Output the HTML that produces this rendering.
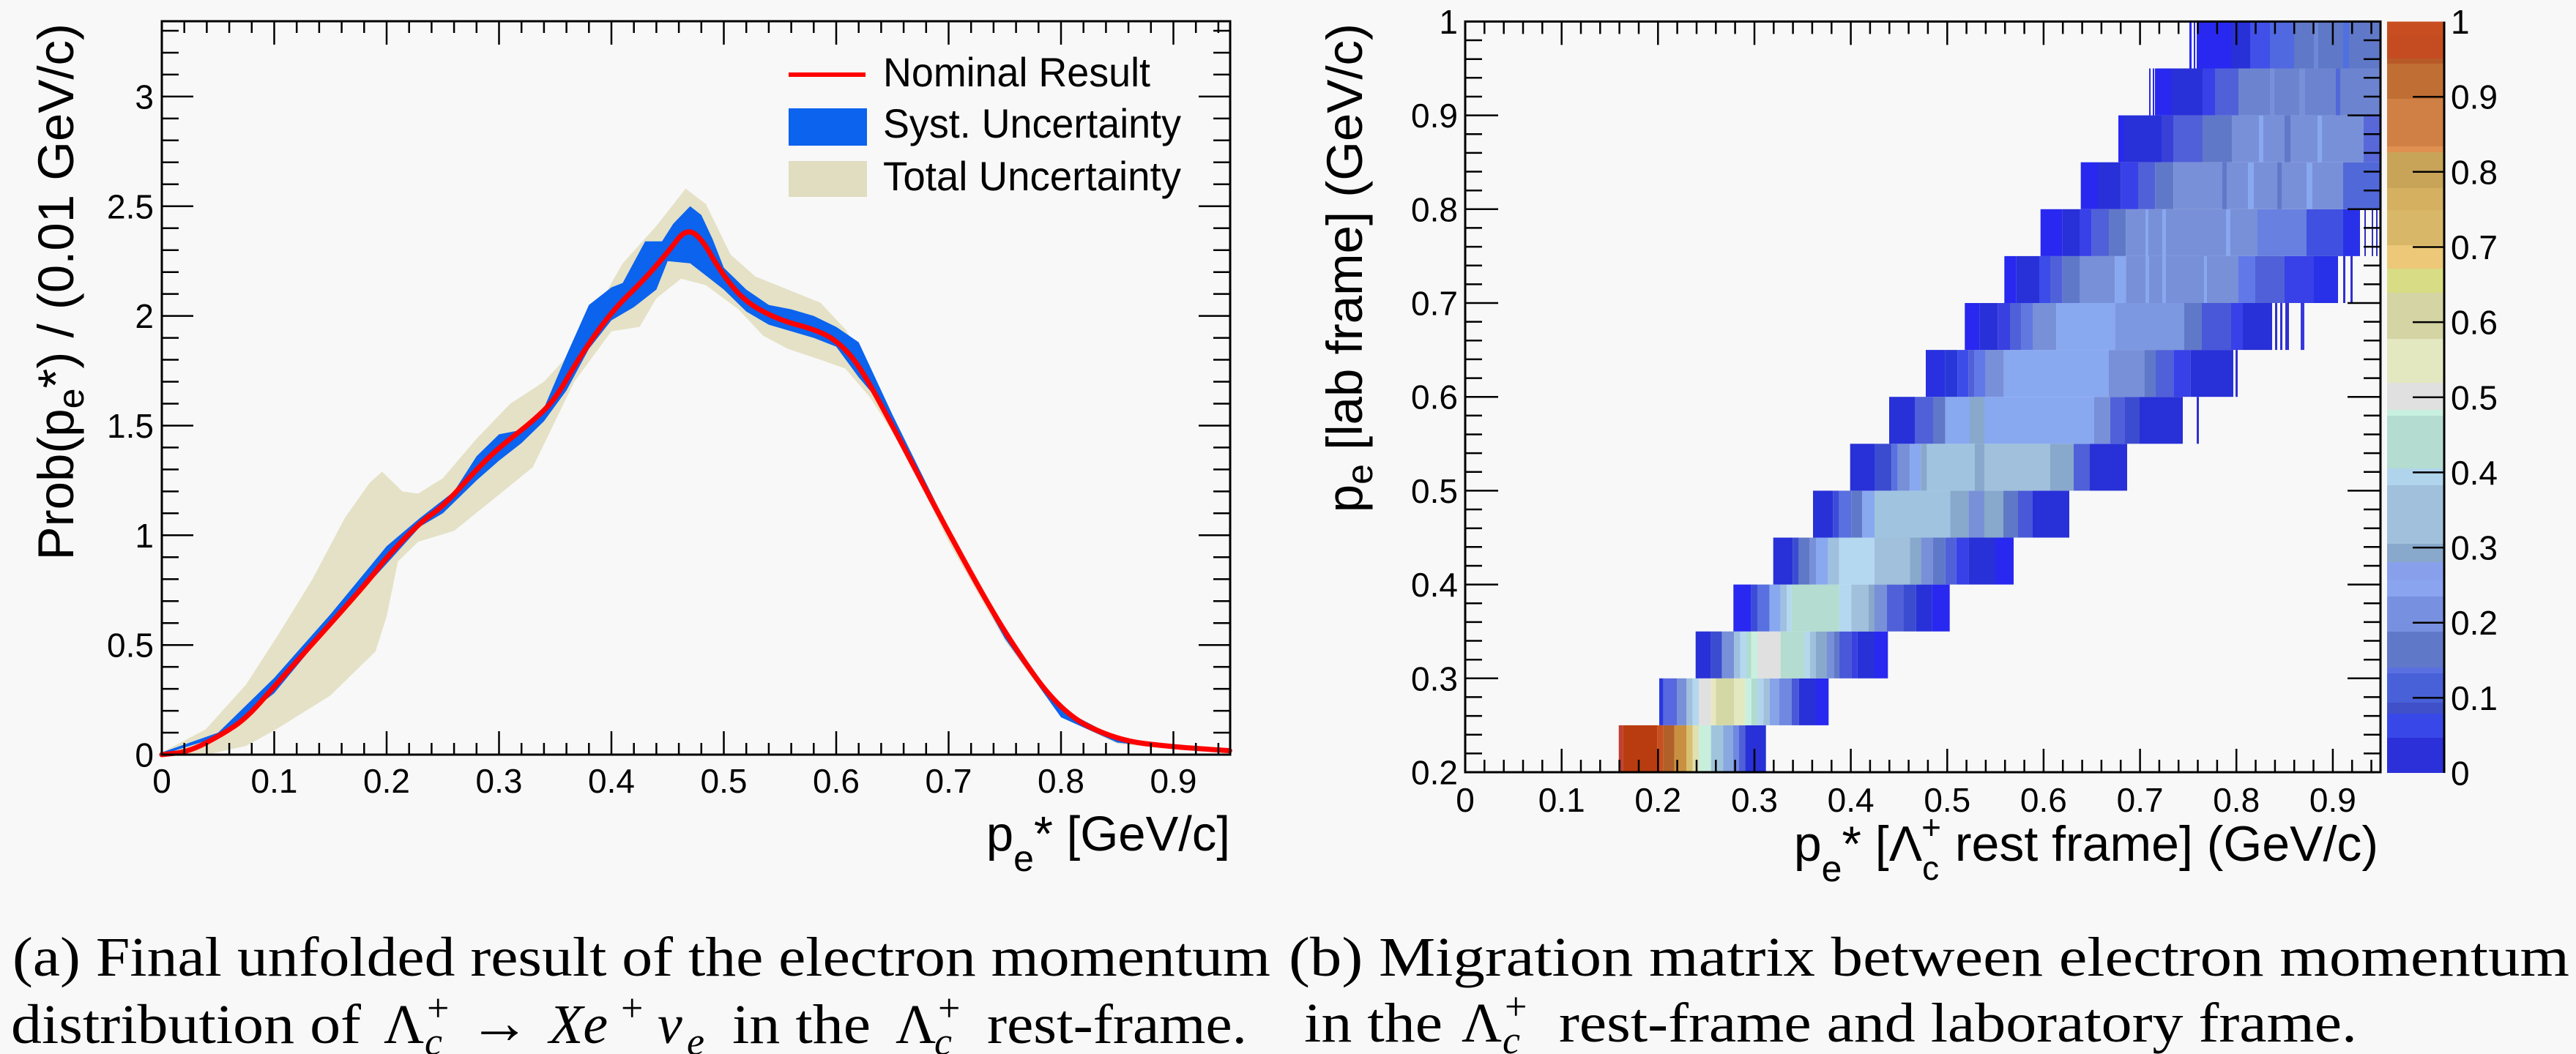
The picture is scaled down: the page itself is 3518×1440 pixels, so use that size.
<!DOCTYPE html>
<html><head><meta charset="utf-8"><style>
html,body{margin:0;padding:0;background:#f8f8f8;}
svg{display:block;}
.t{font-family:"Liberation Sans",Arial,sans-serif;fill:#000;}
.s{font-family:"Liberation Serif","DejaVu Serif",serif;fill:#000;}
</style></head><body>
<svg width="3518" height="1440" viewBox="0 0 3518 1440" xmlns="http://www.w3.org/2000/svg">
<rect width="3518" height="1440" fill="#f8f8f8"/>

<!-- ===== LEFT PLOT ===== -->
<polygon fill="#e4e1c6" points="221,1028 280.9,996.5 336.1,935.1 380.6,866.2 426.7,791.2 471.2,707.3 505,659.4 521.9,644.4 549.5,671.4 571,674.4 604.8,653.4 650.8,599.4 696.9,551.5 742.9,521.5 784.3,476.6 819.7,413.6 850.4,359.7 896.4,308.7 936.3,257.8 964,278.8 997.7,347.7 1031.5,377.7 1076,395.6 1120.5,413.6 1154.3,449.6 1188,503.5 1221.8,575.5 1295.5,719.3 1372.3,857.2 1449,968.1 1525.8,1007 1602.5,1017.5 1679.3,1022 1679.3,1028 1602.5,1023.5 1525.8,1016 1449,980 1372.3,875.2 1295.5,740.3 1234.1,614.4 1188,542.5 1154.3,503.5 1120.5,491.5 1076,476.6 1042.2,458.6 1008.5,422.6 964,389.6 930.2,380.7 896.4,407.6 873.4,446.6 835,452.6 784.3,521.5 727.6,638.4 672.3,683.3 620.1,725.3 571,740.3 543.4,767.3 528,842.2 512.7,890.1 451.3,950.1 374.5,998 336.1,1019 282.4,1031 221,1031"/>
<polygon fill="#0b63ee" points="221,1028 297.8,1001 374.5,926.1 451.3,839.2 528,746.3 574,707.3 620.1,671.4 650.8,623.4 681.5,593.4 712.2,587.4 742.9,557.5 773.6,485.5 804.3,416.6 835,392.6 850.4,386.6 881.1,329.7 904.1,329.7 919.4,305.7 942.5,281.8 957.8,293.7 973.2,326.7 988.5,365.7 1019.2,395.6 1049.9,416.6 1080.6,422.6 1111.3,431.6 1142,446.6 1172.7,467.6 1218.8,566.5 1295.5,722.3 1372.3,860.2 1449,968.1 1525.8,1008.5 1602.5,1019 1679.3,1023.5 1679.3,1027.4 1602.5,1022.6 1525.8,1014.5 1449,980 1372.3,872.2 1295.5,734.3 1234.1,611.4 1203.4,551.5 1172.7,515.5 1142,473.6 1111.3,461.6 1080.6,452.6 1049.9,443.6 1019.2,425.6 988.5,395.6 973.2,383.6 942.5,359.7 911.8,356.7 896.4,395.6 865.7,419.6 835,437.6 804.3,476.6 773.6,533.5 742.9,575.5 712.2,605.4 681.5,629.4 650.8,656.4 604.8,701.3 574,719.3 528,770.3 451.3,854.2 374.5,947.1 297.8,1007 221,1031"/>
<path fill="none" stroke="#ff0000" stroke-width="7" stroke-linejoin="round" stroke-linecap="round" d="M221,1031 L239.4,1029.05 Q257.8,1027.1 280.1,1015.55 Q302.4,1004 319.25,992.75 Q336.1,981.5 355.3,959.8 Q374.5,938.1 394.45,915.6 Q414.4,893.1 436.65,868.4 Q458.9,843.7 481.95,817.45 Q505,791.2 516.5,776.25 Q528,761.3 551,737.3 Q574,713.3 589.4,702.8 Q604.8,692.3 627.8,666.85 Q650.8,641.4 666.15,626.4 Q681.5,611.4 704.55,593.45 Q727.6,575.5 742.95,560.5 Q758.3,545.5 773.65,518.5 Q789,491.5 812,458.55 Q835,425.6 858,403.15 Q881,380.7 896.4,362.7 Q911.8,344.7 923.3,330 Q934.8,313 946.3,318 Q957.8,324 973.15,352.2 Q988.5,377.7 1003.85,395.65 Q1019.2,413.6 1042.25,425.6 Q1065.3,437.6 1088.3,443.6 Q1111.3,449.6 1126.65,457.1 Q1142,464.6 1157.35,481.05 Q1172.7,497.5 1195.75,539.5 Q1218.8,581.5 1257.15,654.9 Q1295.5,728.3 1333.9,797.25 Q1372.3,866.2 1410.65,920.15 Q1449,974.1 1487.4,992.8 Q1525.8,1011.5 1564.15,1016 Q1602.5,1020.5 1640.9,1023.05 L1679.3,1025.6"/>

<rect x="221" y="29" width="1459" height="1002" fill="none" stroke="#000" stroke-width="3"/>
<g id="lxt" stroke="#000" stroke-width="2.5" fill="none">
<path d="M251.7,1031v-16M282.4,1031v-16M313.1,1031v-16M343.8,1031v-16M405.2,1031v-16M435.9,1031v-16M466.6,1031v-16M497.3,1031v-16M558.7,1031v-16M589.4,1031v-16M620.1,1031v-16M650.8,1031v-16M712.2,1031v-16M742.9,1031v-16M773.6,1031v-16M804.3,1031v-16M865.7,1031v-16M896.4,1031v-16M927.1,1031v-16M957.8,1031v-16M1019.2,1031v-16M1049.9,1031v-16M1080.6,1031v-16M1111.3,1031v-16M1172.7,1031v-16M1203.4,1031v-16M1234.1,1031v-16M1264.8,1031v-16M1326.2,1031v-16M1356.9,1031v-16M1387.6,1031v-16M1418.3,1031v-16M1479.7,1031v-16M1510.4,1031v-16M1541.1,1031v-16M1571.8,1031v-16M1633.2,1031v-16M1663.9,1031v-16"/>
<path d="M374.5,1031v-32M528,1031v-32M681.5,1031v-32M835,1031v-32M988.5,1031v-32M1142,1031v-32M1295.5,1031v-32M1449,1031v-32M1602.5,1031v-32"/>
</g>
<use href="#lxt" transform="matrix(1,0,0,-1,0,1060)"/>
<g id="lyt" stroke="#000" stroke-width="2.5" fill="none">
<path d="M221,1001h23M221,971.1h23M221,941.1h23M221,911.1h23M221,851.2h23M221,821.2h23M221,791.2h23M221,761.3h23M221,701.3h23M221,671.4h23M221,641.4h23M221,611.4h23M221,551.5h23M221,521.5h23M221,491.5h23M221,461.6h23M221,401.6h23M221,371.7h23M221,341.7h23M221,311.7h23M221,251.8h23M221,221.8h23M221,191.8h23M221,161.9h23M221,101.9h23M221,72h23M221,42h23"/>
<path d="M221,881.2h43M221,731.3h43M221,581.5h43M221,431.6h43M221,281.8h43M221,131.9h43"/>
</g>
<use href="#lyt" transform="matrix(-1,0,0,1,1901,0)"/>

<g class="t" font-size="46" text-anchor="middle">
<text x="221" y="1083">0</text><text x="374.5" y="1083">0.1</text><text x="528" y="1083">0.2</text><text x="681.5" y="1083">0.3</text><text x="835" y="1083">0.4</text><text x="988.5" y="1083">0.5</text><text x="1142" y="1083">0.6</text><text x="1295.5" y="1083">0.7</text><text x="1449" y="1083">0.8</text><text x="1602.5" y="1083">0.9</text>
</g>
<g class="t" font-size="46" text-anchor="end">
<text x="210" y="1047.5">0</text><text x="210" y="897.7">0.5</text><text x="210" y="747.8">1</text><text x="210" y="598">1.5</text><text x="210" y="448.1">2</text><text x="210" y="298.3">2.5</text><text x="210" y="148.4">3</text>
</g>

<text class="t" font-size="69" text-anchor="end" transform="rotate(-90)" x="-32" y="100">Prob(p<tspan font-size="50" dy="14">e</tspan><tspan dy="-14">*) / (0.01 GeV/c)</tspan></text>
<text class="t" font-size="67" text-anchor="end" x="1680" y="1162">p<tspan font-size="50" dy="28">e</tspan><tspan dy="-28">* [GeV/c]</tspan></text>

<line x1="1077" y1="102" x2="1182" y2="102" stroke="#ff0000" stroke-width="6"/>
<rect x="1077" y="148" width="107" height="51" fill="#0b63ee"/>
<rect x="1077" y="220" width="107" height="49" fill="#e0ddc0"/>
<g class="t" font-size="56">
<text x="1206" y="118" textLength="365" lengthAdjust="spacingAndGlyphs">Nominal Result</text>
<text x="1206" y="188" textLength="407" lengthAdjust="spacingAndGlyphs">Syst. Uncertainty</text>
<text x="1206" y="260" textLength="407" lengthAdjust="spacingAndGlyphs">Total Uncertainty</text>
</g>

<!-- ===== RIGHT PLOT ===== -->
<g id="hist">
<g transform="translate(0,990.9)">
<rect x="2210.7" width="6" height="64.1" fill="#c04030"/><rect x="2216.7" width="46.6" height="64.1" fill="#b83c10"/><rect x="2263.3" width="8.4" height="64.1" fill="#c85020"/><rect x="2271.7" width="15" height="64.1" fill="#b06028"/><rect x="2286.7" width="16.6" height="64.1" fill="#c89040"/><rect x="2303.3" width="8.4" height="64.1" fill="#d8c070"/><rect x="2311.7" width="8.3" height="64.1" fill="#e0e0b0"/><rect x="2320" width="16.7" height="64.1" fill="#c8eedc"/><rect x="2336.7" width="16.6" height="64.1" fill="#a0c4dc"/><rect x="2353.3" width="13.4" height="64.1" fill="#88a8e0"/><rect x="2366.7" width="8.3" height="64.1" fill="#7088e0"/><rect x="2375" width="8.3" height="64.1" fill="#5060d8"/><rect x="2383.3" width="28.4" height="64.1" fill="#2830d8"/>
</g>
<g transform="translate(0,926.8)">
<rect x="2266" width="5.7" height="64.1" fill="#2838e0"/><rect x="2271.7" width="18.3" height="64.1" fill="#5868e0"/><rect x="2290" width="13.3" height="64.1" fill="#7890d8"/><rect x="2303.3" width="8.4" height="64.1" fill="#a0c0dc"/><rect x="2311.7" width="8.3" height="64.1" fill="#b4d8f0"/><rect x="2320" width="16.7" height="64.1" fill="#e0e0e0"/><rect x="2336.7" width="6.6" height="64.1" fill="#e8e8c0"/><rect x="2343.3" width="25" height="64.1" fill="#d4d8a4"/><rect x="2368.3" width="15" height="64.1" fill="#e4e8c0"/><rect x="2383.3" width="8.4" height="64.1" fill="#c8f0e0"/><rect x="2391.7" width="8.3" height="64.1" fill="#b0dcd0"/><rect x="2400" width="8.3" height="64.1" fill="#b0d4ec"/><rect x="2408.3" width="8.4" height="64.1" fill="#a0c0dc"/><rect x="2416.7" width="13.3" height="64.1" fill="#88a4e8"/><rect x="2430" width="16.7" height="64.1" fill="#7088e0"/><rect x="2446.7" width="10" height="64.1" fill="#4858d8"/><rect x="2456.7" width="23.3" height="64.1" fill="#2830d8"/><rect x="2480" width="17.3" height="64.1" fill="#2828f0"/>
</g>
<g transform="translate(0,862.7)">
<rect x="2315.7" width="21" height="64.1" fill="#2830d8"/><rect x="2336.7" width="15" height="64.1" fill="#3c4cd0"/><rect x="2351.7" width="16.6" height="64.1" fill="#7890d8"/><rect x="2368.3" width="8.4" height="64.1" fill="#a0c0e0"/><rect x="2376.7" width="8.3" height="64.1" fill="#b4d8f0"/><rect x="2385" width="6.7" height="64.1" fill="#b0dcd0"/><rect x="2391.7" width="8.3" height="64.1" fill="#c8f0e0"/><rect x="2400" width="31.7" height="64.1" fill="#e0e0e0"/><rect x="2431.7" width="33.3" height="64.1" fill="#b4dcd0"/><rect x="2465" width="6.7" height="64.1" fill="#b4d8f0"/><rect x="2471.7" width="8.3" height="64.1" fill="#a0c0dc"/><rect x="2480" width="15" height="64.1" fill="#88a8cc"/><rect x="2495" width="10" height="64.1" fill="#7890d8"/><rect x="2505" width="6.7" height="64.1" fill="#6078c8"/><rect x="2511.7" width="16.6" height="64.1" fill="#4858d8"/><rect x="2528.3" width="8.4" height="64.1" fill="#3840e0"/><rect x="2536.7" width="23.3" height="64.1" fill="#2830d8"/><rect x="2560" width="18.3" height="64.1" fill="#2828f0"/>
</g>
<g transform="translate(0,798.6)">
<rect x="2367.3" width="24.4" height="64.1" fill="#2828f0"/><rect x="2391.7" width="8.3" height="64.1" fill="#3c4cd8"/><rect x="2400" width="16.7" height="64.1" fill="#5870e0"/><rect x="2416.7" width="15" height="64.1" fill="#88a8f0"/><rect x="2431.7" width="8.3" height="64.1" fill="#a0c0e0"/><rect x="2440" width="6.7" height="64.1" fill="#b4d8f0"/><rect x="2446.7" width="65" height="64.1" fill="#b4dcd0"/><rect x="2511.7" width="16.6" height="64.1" fill="#b4d8f0"/><rect x="2528.3" width="23.4" height="64.1" fill="#a0c0dc"/><rect x="2551.7" width="8.3" height="64.1" fill="#88a8cc"/><rect x="2560" width="16.7" height="64.1" fill="#7890d8"/><rect x="2576.7" width="23.3" height="64.1" fill="#5060d8"/><rect x="2600" width="16.7" height="64.1" fill="#3c4cd0"/><rect x="2616.7" width="21.6" height="64.1" fill="#2830d8"/><rect x="2638.3" width="24.4" height="64.1" fill="#2828f0"/>
</g>
<g transform="translate(0,734.5)">
<rect x="2421.7" width="26.6" height="64.1" fill="#2830d8"/><rect x="2448.3" width="8.4" height="64.1" fill="#3c4cd0"/><rect x="2456.7" width="15" height="64.1" fill="#6078c8"/><rect x="2471.7" width="8.3" height="64.1" fill="#7890d8"/><rect x="2480" width="16.7" height="64.1" fill="#88a8f0"/><rect x="2496.7" width="15" height="64.1" fill="#a0c0e0"/><rect x="2511.7" width="48.3" height="64.1" fill="#b4d8f0"/><rect x="2560" width="48.3" height="64.1" fill="#a0c0dc"/><rect x="2608.3" width="15" height="64.1" fill="#88a8cc"/><rect x="2623.3" width="16.7" height="64.1" fill="#7890d8"/><rect x="2640" width="16.7" height="64.1" fill="#6078c8"/><rect x="2656.7" width="15" height="64.1" fill="#5060d8"/><rect x="2671.7" width="16.6" height="64.1" fill="#3840e8"/><rect x="2688.3" width="36.7" height="64.1" fill="#2830d8"/><rect x="2725" width="25" height="64.1" fill="#2828f0"/>
</g>
<g transform="translate(0,670.4)">
<rect x="2476" width="27.3" height="64.1" fill="#2830d8"/><rect x="2503.3" width="8.4" height="64.1" fill="#3c4cd8"/><rect x="2511.7" width="16.6" height="64.1" fill="#5870e0"/><rect x="2528.3" width="15" height="64.1" fill="#6078c8"/><rect x="2543.3" width="16.7" height="64.1" fill="#88a8f0"/><rect x="2560" width="103.3" height="64.1" fill="#a0c4e0"/><rect x="2663.3" width="25" height="64.1" fill="#88a8cc"/><rect x="2688.3" width="21.7" height="64.1" fill="#7890d8"/><rect x="2710" width="26" height="64.1" fill="#88a8cc"/><rect x="2736" width="20" height="64.1" fill="#6078c8"/><rect x="2756" width="20" height="64.1" fill="#4858d8"/><rect x="2776" width="50" height="64.1" fill="#2830d8"/>
</g>
<g transform="translate(0,606.3)">
<rect x="2526.7" width="33.3" height="64.1" fill="#2830d8"/><rect x="2560" width="23.3" height="64.1" fill="#3c4cd0"/><rect x="2583.3" width="8.4" height="64.1" fill="#5870e0"/><rect x="2591.7" width="16.6" height="64.1" fill="#7890d8"/><rect x="2608.3" width="15" height="64.1" fill="#88a8f0"/><rect x="2623.3" width="8.4" height="64.1" fill="#88a8cc"/><rect x="2631.7" width="65" height="64.1" fill="#a0c4e0"/><rect x="2696.7" width="13.3" height="64.1" fill="#88a8cc"/><rect x="2710" width="90" height="64.1" fill="#a0c0dc"/><rect x="2800" width="32" height="64.1" fill="#88a8cc"/><rect x="2832" width="22" height="64.1" fill="#5060d8"/><rect x="2854" width="51" height="64.1" fill="#2830d8"/>
</g>
<g transform="translate(0,542.2)">
<rect x="2580" width="35" height="64.1" fill="#2830d8"/><rect x="2615" width="25" height="64.1" fill="#5060d8"/><rect x="2640" width="16.7" height="64.1" fill="#6078c8"/><rect x="2656.7" width="33.3" height="64.1" fill="#88a8f0"/><rect x="2690" width="20" height="64.1" fill="#88a8cc"/><rect x="2710" width="150" height="64.1" fill="#88a8f0"/><rect x="2860" width="22" height="64.1" fill="#7890d8"/><rect x="2882" width="20" height="64.1" fill="#5060d8"/><rect x="2902" width="20" height="64.1" fill="#3c4cd0"/><rect x="2922" width="59" height="64.1" fill="#2830d8"/><rect x="3000" width="3" height="64.1" fill="#3030d0"/>
</g>
<g transform="translate(0,478.1)">
<rect x="2630" width="26.7" height="64.1" fill="#2830e0"/><rect x="2656.7" width="16.6" height="64.1" fill="#2838d8"/><rect x="2673.3" width="15" height="64.1" fill="#3c4ce8"/><rect x="2688.3" width="8.4" height="64.1" fill="#5060d8"/><rect x="2696.7" width="15" height="64.1" fill="#6078e8"/><rect x="2711.7" width="25" height="64.1" fill="#7890d8"/><rect x="2736.7" width="143.3" height="64.1" fill="#88a8f0"/><rect x="2880" width="48.3" height="64.1" fill="#7890d8"/><rect x="2928.3" width="15" height="64.1" fill="#6078c8"/><rect x="2943.3" width="25" height="64.1" fill="#5060d8"/><rect x="2968.3" width="23.4" height="64.1" fill="#3840e8"/><rect x="2991.7" width="58.3" height="64.1" fill="#2830d8"/><rect x="3053" width="3" height="64.1" fill="#3030d0"/>
</g>
<g transform="translate(0,414)">
<rect x="2683.3" width="20" height="64.1" fill="#2828f0"/><rect x="2703.3" width="25" height="64.1" fill="#2830d8"/><rect x="2728.3" width="16.7" height="64.1" fill="#3840e0"/><rect x="2745" width="15" height="64.1" fill="#5060d8"/><rect x="2760" width="16.7" height="64.1" fill="#6078e0"/><rect x="2776.7" width="31.6" height="64.1" fill="#7890d8"/><rect x="2808.3" width="80" height="64.1" fill="#88a8f0"/><rect x="2888.3" width="94.7" height="64.1" fill="#7c98e0"/><rect x="2983" width="24" height="64.1" fill="#6078c8"/><rect x="3007" width="40" height="64.1" fill="#4858d8"/><rect x="3047" width="16" height="64.1" fill="#3840e8"/><rect x="3063" width="40" height="64.1" fill="#2830d8"/><rect x="3107" width="3" height="64.1" fill="#3030d0"/><rect x="3114" width="3" height="64.1" fill="#3030d0"/><rect x="3121" width="5" height="64.1" fill="#3030d0"/><rect x="3142" width="5" height="64.1" fill="#3838e0"/>
</g>
<g transform="translate(0,349.9)">
<rect x="2737.3" width="16" height="64.1" fill="#2828f0"/><rect x="2753.3" width="31.7" height="64.1" fill="#2830d8"/><rect x="2785" width="15" height="64.1" fill="#3c4ce8"/><rect x="2800" width="16.7" height="64.1" fill="#5060d8"/><rect x="2816.7" width="23.3" height="64.1" fill="#6078c8"/><rect x="2840" width="48.3" height="64.1" fill="#7890d8"/><rect x="2888.3" width="15" height="64.1" fill="#88a8f0"/><rect x="2903.3" width="153.7" height="64.1" fill="#7890d8"/><rect x="2930" width="5" height="64.1" fill="#88a8f0"/><rect x="2953" width="5" height="64.1" fill="#88a8f0"/><rect x="3010" width="4" height="64.1" fill="#88a8f0"/><rect x="3057" width="23" height="64.1" fill="#6078e8"/><rect x="3080" width="40" height="64.1" fill="#5060d8"/><rect x="3120" width="40" height="64.1" fill="#3840e8"/><rect x="3160" width="33" height="64.1" fill="#2830e8"/><rect x="3200" width="3" height="64.1" fill="#3030d0"/><rect x="3210" width="3" height="64.1" fill="#3030d0"/>
</g>
<g transform="translate(0,285.8)">
<rect x="2786.7" width="30" height="64.1" fill="#2828f0"/><rect x="2816.7" width="23.3" height="64.1" fill="#2830d8"/><rect x="2840" width="16.7" height="64.1" fill="#3840e8"/><rect x="2856.7" width="23.3" height="64.1" fill="#5060d8"/><rect x="2880" width="23.3" height="64.1" fill="#6078c8"/><rect x="2903.3" width="179.7" height="64.1" fill="#7890d8"/><rect x="2930" width="4" height="64.1" fill="#88a8f0"/><rect x="2953" width="5" height="64.1" fill="#88a8f0"/><rect x="3040" width="6" height="64.1" fill="#88a8f0"/><rect x="3083" width="67" height="64.1" fill="#6880e0"/><rect x="3150" width="50" height="64.1" fill="#4050e0"/><rect x="3200" width="23" height="64.1" fill="#2830e8"/><rect x="3229" width="2" height="64.1" fill="#3030c0"/><rect x="3239" width="2" height="64.1" fill="#3030c0"/><rect x="3245" width="2" height="64.1" fill="#3030c0"/>
</g>
<g transform="translate(0,221.7)">
<rect x="2841.7" width="23.3" height="64.1" fill="#2828f0"/><rect x="2865" width="31.7" height="64.1" fill="#2830d8"/><rect x="2896.7" width="23.3" height="64.1" fill="#3840e8"/><rect x="2920" width="23.3" height="64.1" fill="#5060d8"/><rect x="2943.3" width="25" height="64.1" fill="#6078c8"/><rect x="2968.3" width="231.7" height="64.1" fill="#7890d8"/><rect x="3035" width="6" height="64.1" fill="#6078c8"/><rect x="3070" width="8" height="64.1" fill="#88a8f0"/><rect x="3110" width="6" height="64.1" fill="#6078c8"/><rect x="3150" width="8" height="64.1" fill="#88a8f0"/><rect x="3200" width="51" height="64.1" fill="#5068d8"/>
</g>
<g transform="translate(0,157.6)">
<rect x="2893" width="7" height="64.1" fill="#2828f0"/><rect x="2900" width="52" height="64.1" fill="#2830d8"/><rect x="2952" width="16" height="64.1" fill="#3840d8"/><rect x="2968" width="40" height="64.1" fill="#5060d8"/><rect x="3008" width="40" height="64.1" fill="#6078c8"/><rect x="3048" width="203" height="64.1" fill="#7890d8"/><rect x="3085" width="6" height="64.1" fill="#88a8f0"/><rect x="3120" width="8" height="64.1" fill="#6078c8"/><rect x="3165" width="6" height="64.1" fill="#88a8f0"/><rect x="3228" width="23" height="64.1" fill="#5868d8"/>
</g>
<g transform="translate(0,93.5)">
<rect x="2935" width="2" height="64.1" fill="#2828f0"/><rect x="2940" width="2" height="64.1" fill="#2828f0"/><rect x="2943" width="22" height="64.1" fill="#2828f0"/><rect x="2965" width="43" height="64.1" fill="#2830d8"/><rect x="3008" width="17" height="64.1" fill="#3840e8"/><rect x="3025" width="32" height="64.1" fill="#5060d8"/><rect x="3057" width="194" height="64.1" fill="#6c84d0"/><rect x="3100" width="6" height="64.1" fill="#7890d8"/><rect x="3140" width="8" height="64.1" fill="#7890d8"/><rect x="3190" width="6" height="64.1" fill="#5068d8"/>
</g>
<g transform="translate(0,29.4)">
<rect x="2990" width="3" height="64.1" fill="#2828f0"/><rect x="2996" width="2" height="64.1" fill="#2828f0"/><rect x="3000" width="47" height="64.1" fill="#2828f0"/><rect x="3047" width="26" height="64.1" fill="#2830d8"/><rect x="3073" width="27" height="64.1" fill="#4050e8"/><rect x="3100" width="33" height="64.1" fill="#5068e0"/><rect x="3133" width="118" height="64.1" fill="#6078c8"/><rect x="3160" width="6" height="64.1" fill="#7088d8"/><rect x="3200" width="8" height="64.1" fill="#5070e0"/>
</g>
</g>

<rect x="2001" y="29.4" width="1250" height="1025.6" fill="none" stroke="#000" stroke-width="3"/>
<g id="rxt" stroke="#000" stroke-width="2.5" fill="none">
<path d="M2027.3,1055v-17M2053.7,1055v-17M2080,1055v-17M2106.3,1055v-17M2159,1055v-17M2185.3,1055v-17M2211.6,1055v-17M2238,1055v-17M2290.6,1055v-17M2317,1055v-17M2343.3,1055v-17M2369.6,1055v-17M2422.3,1055v-17M2448.6,1055v-17M2474.9,1055v-17M2501.3,1055v-17M2553.9,1055v-17M2580.3,1055v-17M2606.6,1055v-17M2632.9,1055v-17M2685.6,1055v-17M2711.9,1055v-17M2738.2,1055v-17M2764.6,1055v-17M2817.2,1055v-17M2843.6,1055v-17M2869.9,1055v-17M2896.2,1055v-17M2948.9,1055v-17M2975.2,1055v-17M3001.5,1055v-17M3027.9,1055v-17M3080.5,1055v-17M3106.9,1055v-17M3133.2,1055v-17M3159.5,1055v-17M3212.2,1055v-17M3238.5,1055v-17"/>
<path d="M2132.7,1055v-32M2264.3,1055v-32M2396,1055v-32M2527.6,1055v-32M2659.3,1055v-32M2790.9,1055v-32M2922.6,1055v-32M3054.2,1055v-32M3185.9,1055v-32"/>
</g>
<use href="#rxt" transform="matrix(1,0,0,-1,0,1084.4)"/>
<g id="ryt" stroke="#000" stroke-width="2.5" fill="none">
<path d="M2001,1029.4h23M2001,1003.7h23M2001,978.1h23M2001,952.4h23M2001,901.2h23M2001,875.5h23M2001,849.9h23M2001,824.2h23M2001,773h23M2001,747.3h23M2001,721.7h23M2001,696h23M2001,644.8h23M2001,619.1h23M2001,593.5h23M2001,567.8h23M2001,516.6h23M2001,490.9h23M2001,465.3h23M2001,439.6h23M2001,388.4h23M2001,362.7h23M2001,337.1h23M2001,311.4h23M2001,260.2h23M2001,234.5h23M2001,208.9h23M2001,183.2h23M2001,132h23M2001,106.3h23M2001,80.7h23M2001,55h23"/>
<path d="M2001,926.8h45M2001,798.6h45M2001,670.4h45M2001,542.2h45M2001,414h45M2001,285.8h45M2001,157.6h45"/>
</g>
<use href="#ryt" transform="matrix(-1,0,0,1,5252,0)"/>

<g>
<rect x="3260" y="29.5" width="78" height="18.5" fill="#c84e22"/>
<rect x="3260" y="48" width="78" height="32" fill="#c44c20"/>
<rect x="3260" y="80" width="78" height="7" fill="#b85a28"/>
<rect x="3260" y="87" width="78" height="48" fill="#c06e34"/>
<rect x="3260" y="135" width="78" height="65" fill="#d08044"/>
<rect x="3260" y="200" width="78" height="8" fill="#e09050"/>
<rect x="3260" y="208" width="78" height="49" fill="#c8a458"/>
<rect x="3260" y="257" width="78" height="30" fill="#d4b060"/>
<rect x="3260" y="287" width="78" height="48" fill="#d8b868"/>
<rect x="3260" y="335" width="78" height="32" fill="#ecc878"/>
<rect x="3260" y="367" width="78" height="33" fill="#d8dc84"/>
<rect x="3260" y="400" width="78" height="63" fill="#d4d4a4"/>
<rect x="3260" y="463" width="78" height="60" fill="#e4e8c0"/>
<rect x="3260" y="523" width="78" height="37" fill="#e0e0e0"/>
<rect x="3260" y="560" width="78" height="8" fill="#c8f0e0"/>
<rect x="3260" y="568" width="78" height="72" fill="#b4dcd0"/>
<rect x="3260" y="640" width="78" height="23" fill="#b0d4ec"/>
<rect x="3260" y="663" width="78" height="80" fill="#a0c0dc"/>
<rect x="3260" y="743" width="78" height="25" fill="#88a8cc"/>
<rect x="3260" y="768" width="78" height="24" fill="#88a0ec"/>
<rect x="3260" y="792" width="78" height="23" fill="#8aa4f0"/>
<rect x="3260" y="815" width="78" height="48" fill="#7890e0"/>
<rect x="3260" y="863" width="78" height="49" fill="#6078c8"/>
<rect x="3260" y="912" width="78" height="8" fill="#5a70e0"/>
<rect x="3260" y="920" width="78" height="40" fill="#4860d8"/>
<rect x="3260" y="960" width="78" height="15" fill="#4050c8"/>
<rect x="3260" y="975" width="78" height="33" fill="#3848e8"/>
<rect x="3260" y="1008" width="78" height="48" fill="#2c30d8"/>
<path d="M3338,29.5V1056" stroke="#000" stroke-width="3"/>
<path d="M3338,953.4h-43M3338,850.7h-43M3338,748.1h-43M3338,645.4h-43M3338,542.8h-43M3338,440.1h-43M3338,337.5h-43M3338,234.8h-43M3338,132.2h-43" stroke="#000" stroke-width="2.5"/>
</g>
<g class="t" font-size="46">
<text x="3347" y="1072.5">0</text><text x="3347" y="969.9">0.1</text><text x="3347" y="867.2">0.2</text><text x="3347" y="764.6">0.3</text><text x="3347" y="661.9">0.4</text><text x="3347" y="559.3">0.5</text><text x="3347" y="456.6">0.6</text><text x="3347" y="354">0.7</text><text x="3347" y="251.3">0.8</text><text x="3347" y="148.7">0.9</text><text x="3347" y="46">1</text>
</g>

<g class="t" font-size="46" text-anchor="middle">
<text x="2001" y="1109">0</text><text x="2132.7" y="1109">0.1</text><text x="2264.3" y="1109">0.2</text><text x="2396" y="1109">0.3</text><text x="2527.6" y="1109">0.4</text><text x="2659.3" y="1109">0.5</text><text x="2790.9" y="1109">0.6</text><text x="2922.6" y="1109">0.7</text><text x="3054.2" y="1109">0.8</text><text x="3185.9" y="1109">0.9</text>
</g>
<g class="t" font-size="46" text-anchor="end">
<text x="1991" y="1071.5">0.2</text><text x="1991" y="943.3">0.3</text><text x="1991" y="815.1">0.4</text><text x="1991" y="686.9">0.5</text><text x="1991" y="558.7">0.6</text><text x="1991" y="430.5">0.7</text><text x="1991" y="302.3">0.8</text><text x="1991" y="174.1">0.9</text><text x="1991" y="46">1</text>
</g>

<text class="t" font-size="69" text-anchor="end" transform="rotate(-90)" x="-32" y="1860">p<tspan font-size="50" dy="14">e</tspan><tspan dy="-14"> [lab frame] (GeV/c)</tspan></text>
<text class="t" font-size="68" text-anchor="end" x="3248" y="1176">p<tspan font-size="50" dy="28">e</tspan><tspan dy="-28">* [Λ</tspan><tspan font-size="46" dy="26">c</tspan><tspan font-size="46" dx="-24" dy="-56">+</tspan><tspan dy="30"> rest frame] (GeV/c)</tspan></text>

<!-- ===== CAPTIONS ===== -->
<g class="s" font-size="76">
<text x="17" y="1333" textLength="1718" lengthAdjust="spacingAndGlyphs">(a) Final unfolded result of the electron momentum</text>
<text x="15" y="1425" textLength="478" lengthAdjust="spacingAndGlyphs">distribution of</text>
<text x="524" y="1425">Λ</text>
<text x="580" y="1441" font-size="54" font-style="italic">c</text>
<text x="583" y="1395" font-size="54">+</text>
<text x="640" y="1425" font-size="84">→</text>
<text x="750" y="1425" font-style="italic">Xe</text>
<text x="848" y="1395" font-size="54">+</text>
<text x="898" y="1425" font-style="italic">ν</text>
<text x="938" y="1441" font-size="54" font-style="italic">e</text>
<text x="1000" y="1425" textLength="189" lengthAdjust="spacingAndGlyphs">in the</text>
<text x="1223" y="1425">Λ</text>
<text x="1276" y="1441" font-size="54" font-style="italic">c</text>
<text x="1281" y="1395" font-size="54">+</text>
<text x="1348" y="1425" textLength="355" lengthAdjust="spacingAndGlyphs">rest-frame.</text>

<text x="1760" y="1333" textLength="1749" lengthAdjust="spacingAndGlyphs">(b) Migration matrix between electron momentum</text>
<text x="1781" y="1423" textLength="189" lengthAdjust="spacingAndGlyphs">in the</text>
<text x="1996" y="1423">Λ</text>
<text x="2052" y="1439" font-size="54" font-style="italic">c</text>
<text x="2055" y="1393" font-size="54">+</text>
<text x="2129" y="1423" textLength="1090" lengthAdjust="spacingAndGlyphs">rest-frame and laboratory frame.</text>
</g>
</svg>
</body></html>
